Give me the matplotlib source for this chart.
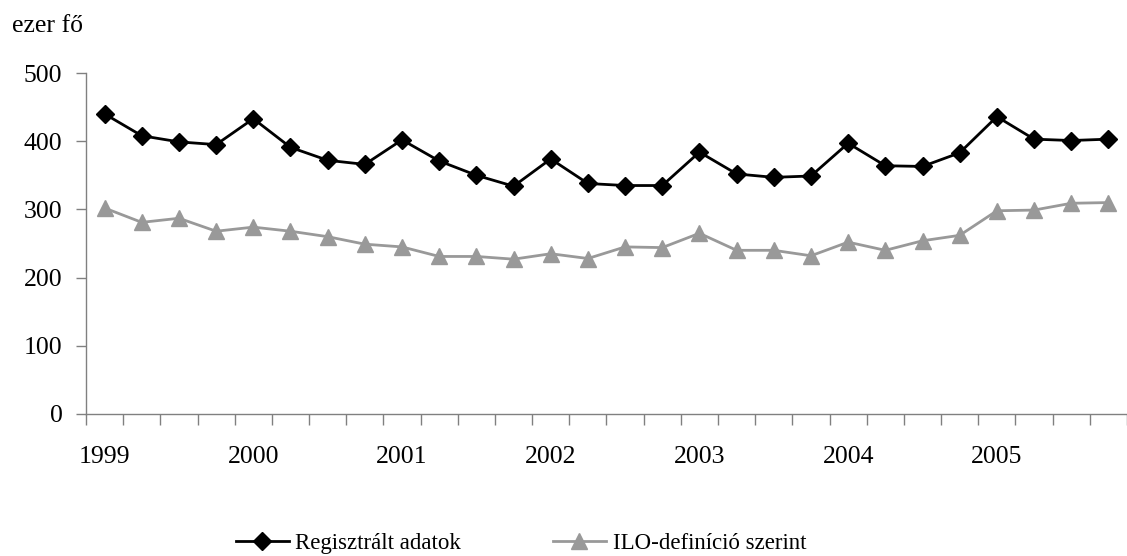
import matplotlib
matplotlib.use("Agg")
import matplotlib.pyplot as plt
import numpy as np

plt.rcParams['font.family'] = ['Liberation Serif', 'DejaVu Serif']

years = ['1999', '2000', '2001', '2002', '2003', '2004', '2005']
registered = [440, 408, 399, 395, 433, 391, 372, 366, 402, 371, 350, 334,
              374, 338, 335, 335, 384, 352, 347, 349, 397, 364, 363, 383,
              436, 403, 401, 403]
ilo = [302, 281, 287, 268, 274, 268, 260, 249, 245, 231, 231, 227,
       235, 228, 245, 244, 265, 240, 240, 232, 252, 240, 254, 262,
       298, 299, 309, 310]
yticks = [0, 100, 200, 300, 400, 500]

FS = 18.5
LFS = 16.5
fig = plt.figure(figsize=(11.27, 5.56), dpi=100)
ax = fig.add_axes([86/1127, 142/556, 1 - 86/1127, (414-73)/556])

x = np.arange(len(registered))
ax.plot(x, registered, color='black', lw=2.0, marker='D', ms=9,
        label='Regisztrált adatok')
ax.plot(x, ilo, color='#999999', lw=2.0, marker='^', ms=11,
        label='ILO-definíció szerint')

ax.set_xlim(-0.5, len(registered) - 0.5)
ax.set_ylim(0, 500)
ax.set_yticks(yticks)
ax.set_yticklabels([str(v) for v in yticks], fontsize=FS)
ax.set_xticks(np.arange(0, len(registered), 4))
ax.set_xticklabels(years, fontsize=FS)
ax.set_xticks(np.arange(-0.5, len(registered), 1), minor=True)
ax.tick_params(axis='x', which='major', length=0, pad=23)
ax.tick_params(axis='x', which='minor', length=8, width=1, color='#808080')
ax.tick_params(axis='y', length=7, width=1, color='#808080', pad=10)

for s in ['top', 'right']:
    ax.spines[s].set_visible(False)
for s in ['left', 'bottom']:
    ax.spines[s].set_color('#808080')
    ax.spines[s].set_linewidth(1)

fig.text(12/1127, 1 - 32/556, 'ezer fő', fontsize=FS, va='baseline', ha='left')

fig.legend(loc='center', bbox_to_anchor=(521/1127, 1 - 543/556), ncol=2,
           frameon=False, fontsize=LFS, handlelength=2.3, handletextpad=0.3,
           columnspacing=4.0, markerscale=1.0, borderpad=0)

fig.savefig('out.png', dpi=100)
